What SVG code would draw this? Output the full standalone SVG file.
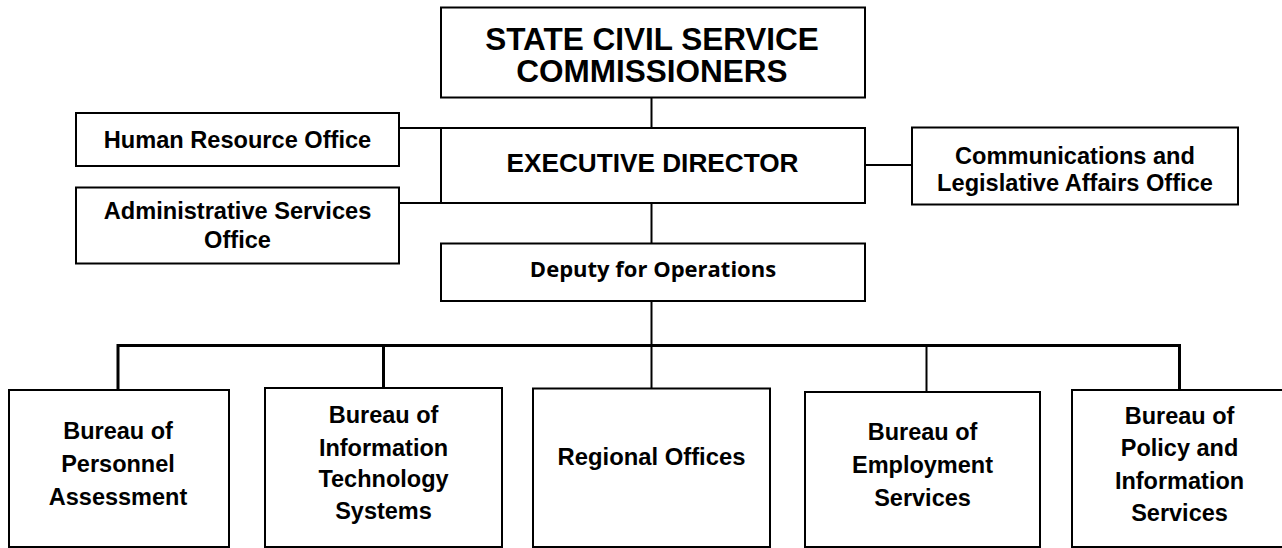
<svg xmlns="http://www.w3.org/2000/svg" width="1282" height="548" viewBox="0 0 1282 548">
<style>
.box{fill:#fff;stroke:#000;stroke-width:2}
.t{font-family:"Liberation Sans",Arial,sans-serif;font-weight:bold;fill:#000;text-anchor:middle}
.c{stroke:#000;stroke-width:2;fill:none}
.bus{stroke:#000;stroke-width:3;fill:none}
</style>
<rect width="1282" height="548" fill="#fff"/>
<g id="connectors">
<line class="c" x1="651.5" y1="97" x2="651.5" y2="128"/>
<line class="c" x1="651.5" y1="203" x2="651.5" y2="243"/>
<line class="c" x1="651.5" y1="301" x2="651.5" y2="388"/>
<line class="c" x1="399" y1="128" x2="441" y2="128"/>
<line class="c" x1="399" y1="203" x2="460" y2="203"/>
<line class="c" x1="865" y1="165" x2="912" y2="165"/>
<polyline class="bus" points="118,390 118,345.5 1179.5,345.5 1179.5,390"/>
<line class="bus" x1="383.5" y1="345.5" x2="383.5" y2="388"/>
<line class="c" x1="926.5" y1="345.5" x2="926.5" y2="392"/>
</g>
<g id="n-commissioners">
<rect class="box" x="441" y="7.5" width="424" height="90"/>
<text class="t" x="652" y="50" font-size="31.5">STATE CIVIL SERVICE</text>
<text class="t" x="652" y="81.5" font-size="31.5">COMMISSIONERS</text>
</g>
<g id="n-executive">
<rect class="box" x="441" y="128" width="424" height="75"/>
<text class="t" x="652.5" y="172" font-size="26.2">EXECUTIVE DIRECTOR</text>
</g>
<g id="n-hr">
<rect class="box" x="76" y="113" width="323" height="53"/>
<text class="t" x="237.5" y="147.5" font-size="23.6">Human Resource Office</text>
</g>
<g id="n-admin">
<rect class="box" x="76" y="187.5" width="323" height="76"/>
<text class="t" x="237.5" y="219" font-size="23.6">Administrative Services</text>
<text class="t" x="237.5" y="248" font-size="23.6">Office</text>
</g>
<g id="n-comms">
<rect class="box" x="912" y="127.5" width="326" height="77"/>
<text class="t" x="1075" y="163.5" font-size="23.6">Communications and</text>
<text class="t" x="1075" y="191" font-size="23.6">Legislative Affairs Office</text>
</g>
<g id="n-deputy">
<rect class="box" x="441" y="243.5" width="424" height="57.5"/>
<text x="653" y="277" font-size="22" font-family="'Open Sans','Noto Sans',sans-serif" font-weight="bold" text-anchor="middle">Deputy for Operations</text>
</g>
<g id="n-personnel">
<rect class="box" x="9" y="390" width="220" height="157"/>
<text class="t" x="118" y="439" font-size="23.5">Bureau of</text>
<text class="t" x="118" y="472" font-size="23.5">Personnel</text>
<text class="t" x="118" y="505" font-size="23.5">Assessment</text>
</g>
<g id="n-it">
<rect class="box" x="265" y="388" width="237" height="159"/>
<text class="t" x="383.5" y="422.5" font-size="23.5">Bureau of</text>
<text class="t" x="383.5" y="455.5" font-size="23.5">Information</text>
<text class="t" x="383.5" y="487" font-size="23.5">Technology</text>
<text class="t" x="383.5" y="519" font-size="23.5">Systems</text>
</g>
<g id="n-regional">
<rect class="box" x="533" y="388.5" width="237" height="158.5"/>
<text class="t" x="651.5" y="465" font-size="23.8">Regional Offices</text>
</g>
<g id="n-employment">
<rect class="box" x="805" y="392" width="235" height="155"/>
<text class="t" x="922.5" y="440" font-size="23.5">Bureau of</text>
<text class="t" x="922.5" y="472.5" font-size="23.5">Employment</text>
<text class="t" x="922.5" y="506" font-size="23.5">Services</text>
</g>
<g id="n-policy">
<rect class="box" x="1072" y="390" width="220" height="157"/>
<text class="t" x="1179.5" y="424" font-size="23.5">Bureau of</text>
<text class="t" x="1179.5" y="456" font-size="23.5">Policy and</text>
<text class="t" x="1179.5" y="488.5" font-size="23.5">Information</text>
<text class="t" x="1179.5" y="520.5" font-size="23.5">Services</text>
</g>
</svg>
